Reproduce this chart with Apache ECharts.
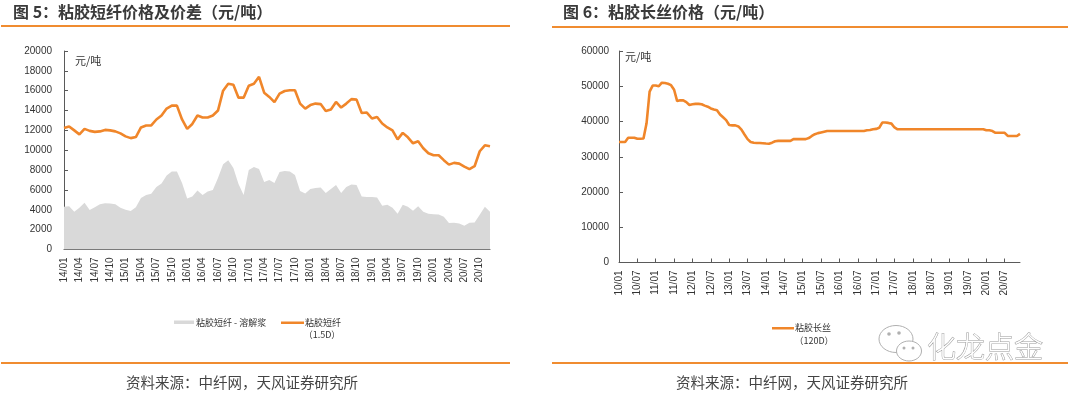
<!DOCTYPE html>
<html>
<head>
<meta charset="utf-8">
<script src="https://cdn.jsdelivr.net/npm/echarts@6/dist/echarts.min.js"></script>
<style>
html,body{margin:0;padding:0;background:#fff;}
#c{width:1080px;height:395px;}
</style>
</head>
<body>
<div id="c"></div>
<script>
// ---- Data ----
function monthCats(y0, y1) {
  var out = [];
  for (var y = y0; y <= y1; y++) {
    for (var m = 1; m <= 12; m++) {
      out.push(String(y).slice(2) + '/' + (m < 10 ? '0' + m : m));
    }
  }
  return out;
}
// Left chart: 2014/01 - 2020/12 monthly
var leftCategories = monthCats(2014, 2020);
var vsfPrice = [12250,12400,12000,11600,12150,11950,11850,11900,12050,12000,
 11900,11700,11400,11220,11330,12300,12500,12500,13100,13500,
 14200,14500,14500,13100,12150,12650,13500,13300,13300,13500,
 14000,16000,16700,16600,15300,15300,16500,16700,17400,15800,
 15370,14850,15700,15970,16040,16040,14700,14200,14550,14700,
 14650,13950,14100,14870,14300,14700,15150,15100,13750,13800,
 13200,13350,12700,12300,12000,11100,11750,11300,10700,10900,
 10200,9700,9500,9500,9000,8550,8730,8650,8350,8100,
 8390,9900,10500,10400];
var vsfSpread = [4300,4350,3800,4200,4700,3980,4250,4550,4650,4630,
 4570,4200,4000,3890,4250,5200,5500,5620,6300,6640,
 7450,7850,7850,6700,5150,5350,5950,5500,5850,6000,
 7200,8600,9000,8200,6600,5500,8000,8300,8100,6800,
 7000,6700,7800,7900,7850,7500,5900,5650,6100,6200,
 6250,5700,6100,6500,5700,6300,6550,6500,5350,5300,
 5300,5250,4400,4500,4200,3600,4500,4300,3900,4350,
 3800,3600,3550,3520,3300,2680,2700,2620,2400,2700,
 2720,3500,4300,3800];
// Right chart: 2010/01 - 2020/12 monthly
var rightCategories = monthCats(2010, 2020);
var vfyPrice = [34200,34200,34200,35400,35400,35400,35100,35100,35200,39500,
 48500,50200,50200,50000,51000,50900,50700,50300,49000,45800,
 46000,46000,45500,44700,44900,45000,45000,44900,44500,44200,
 43700,43400,43200,42000,41200,40400,39000,38900,38900,38600,
 37700,36300,35000,34200,33950,33900,33900,33850,33750,33700,
 34000,34400,34500,34500,34500,34500,34500,35000,35000,35000,
 35000,35000,35300,35900,36400,36700,36900,37100,37300,37300,
 37300,37300,37300,37300,37300,37300,37300,37300,37300,37300,
 37300,37500,37600,37800,37900,38200,39700,39700,39600,39400,
 38300,37800,37800,37800,37800,37800,37800,37800,37800,37800,
 37800,37800,37800,37800,37800,37800,37800,37800,37800,37800,
 37800,37800,37800,37800,37800,37800,37800,37800,37800,37800,
 37500,37500,37300,36800,36800,36800,36800,35900,35900,35900,
 35900,36500];
var leftYTicks = {min: 0, max: 20000, interval: 2000};
var rightYTicks = {min: 0, max: 60000, interval: 10000};

// ---- Styles ----
var ORANGE = '#F0862A';
var RULE = '#F08C30';
var GRAY = '#D9D9D9';
var AX = '#5a5a5a';
var LBL = '#333';
var LAT = '"Liberation Sans", Arial, sans-serif';
var CJK = '"Noto Sans CJK SC", sans-serif';

var chart = echarts.init(document.getElementById('c'));

function yAxisCfg(gi, t, margin) {
  return {
    type: 'value', gridIndex: gi, min: t.min, max: t.max, interval: t.interval,
    axisLine: {show: true, lineStyle: {color: AX, width: 1}},
    axisTick: {show: true, inside: true, length: 4, lineStyle: {color: AX}},
    splitLine: {show: false},
    axisLabel: {color: LBL, fontSize: 10, fontFamily: LAT, margin: margin,
      formatter: function (v) { return String(v); }}
  };
}
function xAxisCfg(gi, cats, every) {
  return {
    type: 'category', gridIndex: gi, data: cats, boundaryGap: false,
    axisLine: {show: true, lineStyle: {color: AX, width: 1}},
    axisTick: {show: true, inside: true, length: 4, interval: every - 1, lineStyle: {color: AX}},
    axisLabel: {interval: every - 1, rotate: 90, color: LBL, fontSize: 10, fontFamily: LAT, margin: 8}
  };
}

function txt(x, y, text, size, opts) {
  opts = opts || {};
  return {
    type: 'text', x: x, y: y, silent: true,
    style: {
      text: text, fontSize: size, fontFamily: opts.family || CJK,
      fontWeight: opts.weight || 'normal', fill: opts.fill || LBL,
      stroke: opts.stroke, lineWidth: opts.lineWidth || 0,
      textAlign: opts.align || 'left', textVerticalAlign: 'middle'
    }
  };
}
function rect(x, y, w, h, color) {
  return {type: 'rect', silent: true, shape: {x: x, y: y, width: w, height: h}, style: {fill: color}};
}

var graphics = [
  txt(13, 12, '图 5：粘胶短纤价格及价差（元/吨）', 16, {weight: 'bold', fill: '#3a3a3a'}),
  txt(563, 12, '图 6：粘胶长丝价格（元/吨）', 16, {weight: 'bold', fill: '#3a3a3a'}),
  rect(1, 25, 509, 2, RULE),
  rect(552, 26, 516, 2, RULE),
  rect(1, 362, 509, 2, RULE),
  rect(552, 362, 516, 2, RULE),
  txt(242, 382, '资料来源：中纤网，天风证券研究所', 14.5, {fill: '#444', align: 'center'}),
  txt(792, 382, '资料来源：中纤网，天风证券研究所', 14.5, {fill: '#444', align: 'center'}),
  txt(75, 61, '元/吨', 11),
  txt(625, 57, '元/吨', 11),
  // left legend
  rect(174, 320.5, 20, 3.5, GRAY),
  txt(196, 322.5, '粘胶短纤 - 溶解浆', 9),
  rect(281, 321.5, 23, 2.5, ORANGE),
  txt(305, 322.5, '粘胶短纤', 9),
  txt(322, 335, '（1.5D）', 9, {align: 'center'}),
  // right legend
  rect(772, 327, 22, 2.5, ORANGE),
  txt(795, 328, '粘胶长丝', 9),
  txt(814, 341, '（120D）', 9, {align: 'center'}),
  // watermark
  {type: 'ellipse', silent: true, shape: {cx: 896, cy: 339, rx: 17, ry: 13.5}, style: {fill: '#fff', stroke: '#b0b0b0', lineWidth: 1}},
  {type: 'ellipse', silent: true, shape: {cx: 909, cy: 351, rx: 12.5, ry: 10}, style: {fill: '#fff', stroke: '#b0b0b0', lineWidth: 1}},
  {type: 'circle', silent: true, shape: {cx: 889, cy: 334, r: 1.8}, style: {fill: '#b0b0b0'}},
  {type: 'circle', silent: true, shape: {cx: 899, cy: 333, r: 1.8}, style: {fill: '#b0b0b0'}},
  {type: 'circle', silent: true, shape: {cx: 904, cy: 348, r: 1.5}, style: {fill: '#b0b0b0'}},
  {type: 'circle', silent: true, shape: {cx: 913, cy: 348, r: 1.5}, style: {fill: '#b0b0b0'}},
  txt(927, 347, '化龙点金', 29, {fill: '#fff', stroke: '#9a9a9a', lineWidth: 1, weight: 300})
];

var option = {
  animation: false,
  backgroundColor: '#fff',
  grid: [
    {left: 64, top: 51, width: 426, height: 198.5, containLabel: false},
    {left: 619, top: 51, width: 401, height: 211.5, containLabel: false}
  ],
  xAxis: [xAxisCfg(0, leftCategories, 3), xAxisCfg(1, rightCategories, 6)],
  yAxis: [yAxisCfg(0, leftYTicks, 12), yAxisCfg(1, rightYTicks, 10)],
  series: [
    {
      name: '粘胶短纤 - 溶解浆', type: 'line', xAxisIndex: 0, yAxisIndex: 0,
      data: vsfSpread, showSymbol: false, symbol: 'none', z: 1,
      lineStyle: {width: 0, color: GRAY}, areaStyle: {color: GRAY, opacity: 1}, itemStyle: {color: GRAY}
    },
    {
      name: '粘胶短纤（1.5D）', type: 'line', xAxisIndex: 0, yAxisIndex: 0,
      data: vsfPrice, showSymbol: false, symbol: 'none', z: 3,
      lineStyle: {width: 2.6, color: ORANGE}, itemStyle: {color: ORANGE}
    },
    {
      name: '粘胶长丝（120D）', type: 'line', xAxisIndex: 1, yAxisIndex: 1,
      data: vfyPrice, showSymbol: false, symbol: 'none', z: 3,
      lineStyle: {width: 2.6, color: ORANGE}, itemStyle: {color: ORANGE}
    }
  ],
  graphic: graphics
};
chart.setOption(option);
</script>
</body>
</html>
